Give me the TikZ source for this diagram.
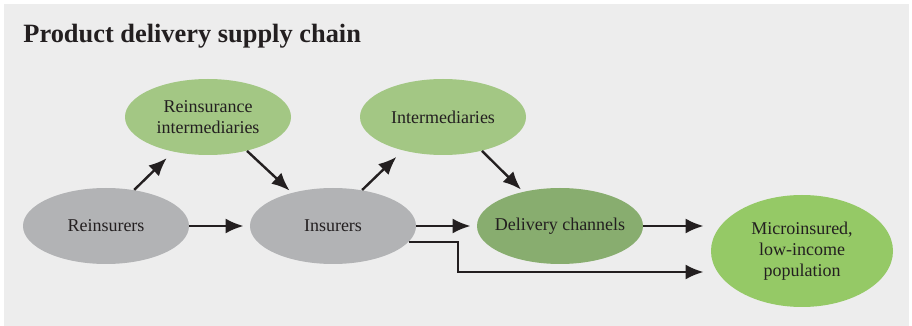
\documentclass[tikz,border=0pt]{standalone}
\usepackage{fontspec}
\setmainfont{Liberation Serif}
\usetikzlibrary{shapes.geometric,arrows.meta}
\definecolor{bgc}{HTML}{EDEDED}
\definecolor{grayc}{HTML}{B2B3B5}
\definecolor{lgreen}{HTML}{A3C784}
\definecolor{dgreen}{HTML}{88AD6F}
\definecolor{bgreen}{HTML}{95C966}
\definecolor{ink}{HTML}{231F20}
\tikzset{
  blob/.style={ellipse,draw=none,minimum width=83pt,minimum height=38pt,inner sep=0pt},
  lbl/.style={align=center,font=\fontsize{9}{10.5}\selectfont,text=ink,inner sep=0pt},
  flow/.style={->,line width=1.2pt,draw=ink,shorten >=3pt}
}
\begin{document}
\begin{tikzpicture}[x=0.5pt,y=-0.5pt,>={Latex[length=9pt,width=7.5pt]}]
\useasboundingbox (0,0) rectangle (912,326);
\fill[bgc] (4,4) rectangle (909,326);
\node[anchor=base west,font=\fontsize{13.2}{15}\selectfont\bfseries,text=ink,inner sep=0pt] (title) at (23,43) {Product delivery supply chain};

% the ovals
\node[blob,fill=grayc] (rein) at (106,226) {};
\node[blob,fill=grayc] (ins) at (333,226) {};
\node[blob,fill=lgreen] (rint) at (208,117) {};
\node[blob,fill=lgreen] (int) at (443,117) {};
\node[blob,fill=dgreen] (dch) at (560,226) {};
\node[blob,fill=bgreen,minimum width=91pt,minimum height=56pt] (mic) at (802,251) {};

% their texts
\node[lbl] (reinT) at (rein) {Reinsurers};
\node[lbl] (insT) at (ins) {Insurers};
\node[lbl] (rintT) at (rint) {Reinsurance\\intermediaries};
\node[lbl] (intT) at (int) {Intermediaries};
\node[lbl] (dchT) at (dch) {Delivery channels};
\node[lbl] (micT) at (mic) {Microinsured,\\low-income\\population};

\draw[flow] (rein.east) -- (ins.west);
\draw[flow] (ins.east) -- (dch.west);
\draw[flow,shorten >=3.5pt] (dch.east) -- (dch.east -| mic.west);
\draw[flow,shorten >=4.5pt] (rein.52) -- (rint.225);
\draw[flow,shorten >=1.5pt] (rint.-41) -- (ins.141);
\draw[flow,shorten >=4.5pt] (ins.51) -- (int.220);
\draw[flow,shorten >=1.5pt] (int.-41) -- (dch.137);
\coordinate (turn) at (458,272);
\draw[flow,shorten >=3.5pt] (ins.-12) -| (turn) -- (turn -| mic.west);
\end{tikzpicture}
\end{document}
